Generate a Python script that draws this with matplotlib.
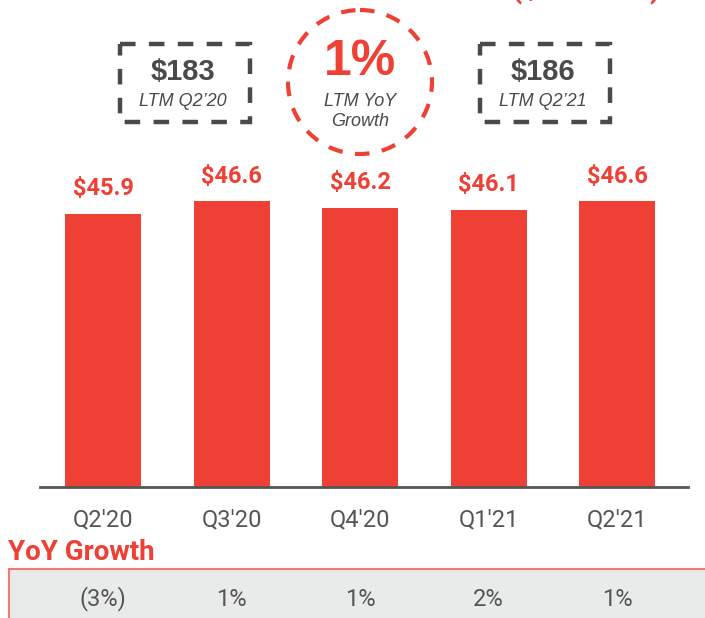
import matplotlib.pyplot as plt
from matplotlib.patches import Rectangle, Circle

plt.rcParams['font.family'] = ['Roboto', 'DejaVu Sans']

# Data
quarters = ["Q2'20", "Q3'20", "Q4'20", "Q1'21", "Q2'21"]
values = [45.9, 46.6, 46.2, 46.1, 46.6]
yoy_growth = ["(3%)", "1%", "1%", "2%", "1%"]
ltm_prev = "$183"
ltm_curr = "$186"
ltm_growth = "1%"

RED = '#EE4035'
GRAY = '#555555'
DARK = '#4A4A4A'
ARIAL = ['Liberation Sans', 'DejaVu Sans']

W, H = 705, 618
fig = plt.figure(figsize=(W / 100, H / 100), dpi=100)

# Bar chart axes (pixel placement: x 40..688, baseline at y=487)
ax = fig.add_axes([40 / W, (H - 487) / H, (688 - 40) / W, (487 - 160) / H])
x = range(len(quarters))
bars = ax.bar(x, values, width=0.59, color=RED, zorder=2)
ax.set_xlim(-0.49, 4.55)
ax.set_ylim(30, 30 + (487 - 160) / 17.2)
for xi, v in zip(x, values):
    ax.annotate('$%.1f' % v, (xi, v), xytext=(0, 10), textcoords='offset points',
                ha='center', va='bottom', color=RED, fontsize=17, fontweight='bold')
ax.set_xticks(list(x))
ax.set_xticklabels(quarters, fontsize=17, color=GRAY)
ax.tick_params(axis='x', length=0, pad=15)
ax.set_yticks([])
for s in ['top', 'right', 'left']:
    ax.spines[s].set_visible(False)
ax.spines['bottom'].set_color(GRAY)
ax.spines['bottom'].set_linewidth(2)
ax.set_facecolor('none')

# Overlay in pixel coordinates for call-outs and growth table
ov = fig.add_axes([0, 0, 1, 1], zorder=-1)
ov.set_xlim(0, W)
ov.set_ylim(H, 0)
ov.axis('off')

# partially visible heading at the very top
ov.text(660, -3, '($ millions)', ha='right', va='baseline', color=RED,
        fontsize=21, fontweight='bold')

dash = (0, (3.5, 3))
for x0, big, small in [(120, ltm_prev, "LTM Q2\u201920"), (480, ltm_curr, "LTM Q2\u201921")]:
    ov.add_patch(Rectangle((x0, 44), 130, 78, fill=False, edgecolor=DARK,
                           linewidth=3.2, linestyle=dash))
    ov.text(x0 + 63, 72, big, ha='center', va='center', color=DARK,
            fontsize=21, fontweight='bold', family=ARIAL)
    ov.text(x0 + 63, 101, small, ha='center', va='center', color=DARK,
            fontsize=13, fontstyle='italic', family=ARIAL)

ov.add_patch(Circle((360, 82), 72, fill=False, edgecolor=RED, linewidth=3,
                    linestyle=(0, (3.5, 3))))
ov.text(360, 62, ltm_growth, ha='center', va='center', color=RED,
        fontsize=36, fontweight='bold', family=ARIAL)
ov.text(360, 101, 'LTM YoY', ha='center', va='center', color=DARK,
        fontsize=13, fontstyle='italic', family=ARIAL)
ov.text(360, 122, 'Growth', ha='center', va='center', color=DARK,
        fontsize=13, fontstyle='italic', family=ARIAL)

# YoY growth table
ov.text(8, 553, 'YoY Growth', ha='left', va='center', color=RED,
        fontsize=20, fontweight='bold')
ov.add_patch(Rectangle((9, 568.5), 710, 60, facecolor='#E9EAEA',
                       edgecolor='#F07A70', linewidth=1.5))
centers = [103, 231, 360, 488, 617]
for cx, g in zip(centers, yoy_growth):
    ov.text(cx, 599, g, ha='center', va='center', color=GRAY, fontsize=17)

fig.savefig('out.png', dpi=100)
